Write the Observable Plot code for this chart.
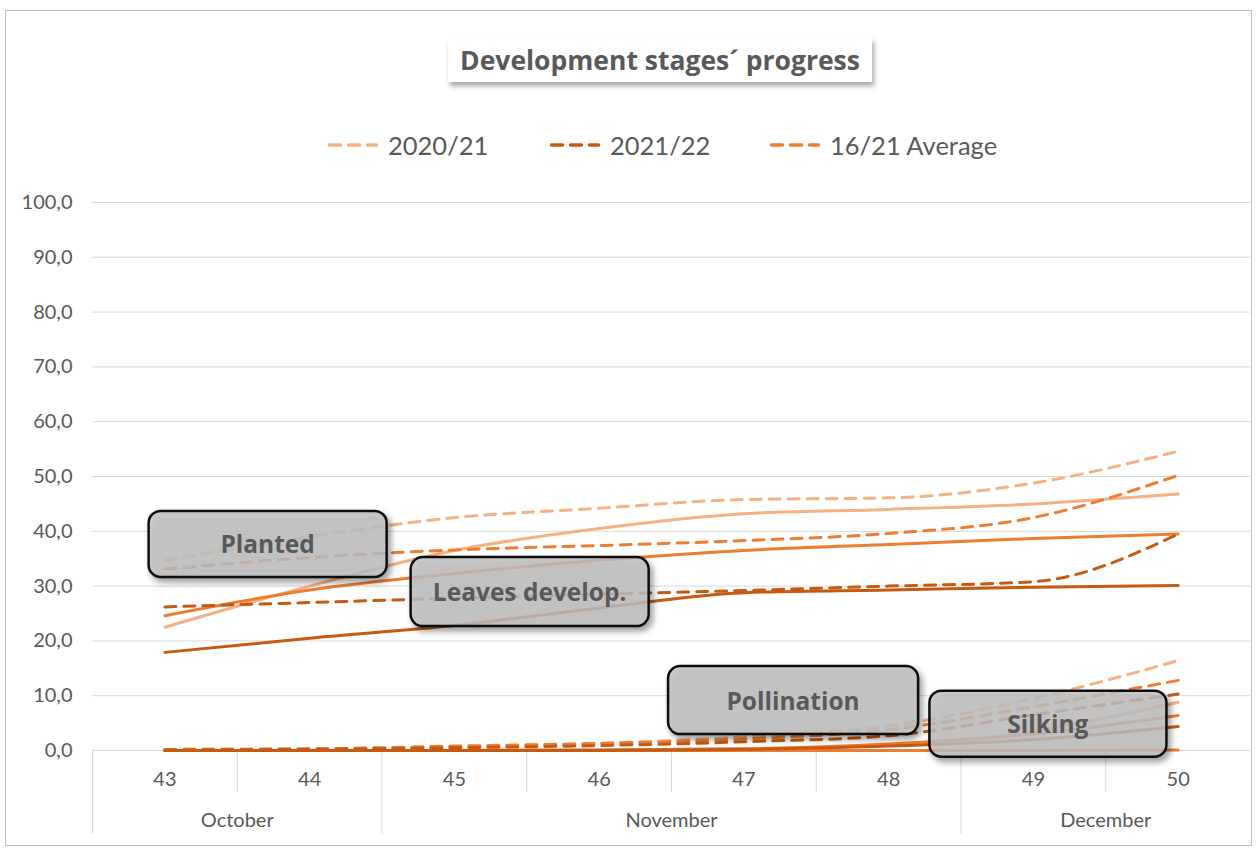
<!DOCTYPE html>
<html>
<head>
<meta charset="utf-8">
<script src="https://cdn.jsdelivr.net/npm/d3@7"></script>
<script src="https://cdn.jsdelivr.net/npm/@observablehq/plot@0.6"></script>
<style>
  body { margin: 0; background: #fff; }
  #wrap { position: relative; width: 1258px; height: 850px; overflow: hidden; font-family: Lato, "Open Sans", sans-serif; color: #595959; }
  #frame { position: absolute; left: 5px; top: 10px; width: 1247px; height: 836px; border: 1px solid #bdbdbd; box-sizing: border-box; pointer-events: none; }
  #header { position: relative; height: 170px; }
  #title { position: absolute; left: 448px; top: 38px; width: 424px; height: 44px; background: #fff;
           box-shadow: 2px 4px 5px rgba(0,0,0,0.35); display: flex; align-items: center; justify-content: center;
           font: 700 26.5px "Open Sans", sans-serif; color: #595959; white-space: nowrap; }
  .lg { position: absolute; top: 130px; height: 30px; display: flex; align-items: center; font-size: 25.5px; white-space: nowrap; }
  .lg svg { margin-right: 10px; }
  svg.chart { display: block; }
</style>
</head>
<body>
<div id="wrap">
  <div id="header">
    <div id="title">Development stages´ progress</div>
    <div id="legend"></div>
  </div>
  <div id="chart"></div>
  <div id="frame"></div>
</div>
<script>
// ---------- data ----------
const weeks = [43, 44, 45, 46, 47, 48, 49, 50];
const seasons = ["2020/21", "2021/22", "16/21 Average"];
const months = ["October", "October", "November", "November", "November", "November", "December", "December"];
const yTicks = [0, 10, 20, 30, 40, 50, 60, 70, 80, 90, 100];

// Planted (dashed)
const planted_2020_21 = [34.7, 39.0, 42.5, 44.2, 45.8, 46.1, 48.8, 54.6];
const planted_2021_22 = [26.2, 27.0, 27.8, 28.5, 29.2, 30.0, 30.8, 39.5];
const planted_avg     = [33.1, 35.2, 36.6, 37.4, 38.3, 39.6, 42.5, 50.2];
// Leaves develop. (solid)
const leaves_2020_21  = [22.5, 30.0, 36.5, 40.5, 43.2, 44.0, 45.0, 46.8];
const leaves_2021_22  = [17.9, 20.5, 22.8, 26.0, 28.8, 29.3, 29.8, 30.1];
const leaves_avg      = [24.6, 29.3, 32.3, 34.7, 36.5, 37.6, 38.7, 39.5];
// Pollination (dashed)
const pollination_2020_21 = [0.2, 0.3, 0.6, 1.3, 2.5, 4.5, 9.5, 16.4];
const pollination_2021_22 = [0.1, 0.2, 0.5, 0.9, 1.6, 2.7, 6.5, 10.3];
const pollination_avg     = [0.2, 0.3, 0.8, 1.3, 2.1, 3.8, 8.0, 12.8];
// Silking (solid)
const silking_2020_21 = [0.0, 0.0, 0.0, 0.1, 0.3, 1.0, 3.5, 8.8];
const silking_2021_22 = [0.0, 0.0, 0.0, 0.0, 0.2, 0.8, 2.0, 4.4];
const silking_avg     = [0.0, 0.0, 0.0, 0.1, 0.3, 1.2, 3.0, 6.4];
// unlabelled flat series along zero
const other_avg       = [0.0, 0.0, 0.0, 0.0, 0.0, 0.0, 0.0, 0.1];

// annotation anchors (week, value)
const labelText  = ["Planted", "Leaves develop.", "Pollination", "Silking"];
const labelWeek  = [43.71, 45.52, 47.34, 49.10];
const labelValue = [37.4, 28.7, 8.9, 4.6];

// ---------- styles ----------
const colors = ["#F4B183", "#C55A11", "#ED7D31"];
const dash = "11,8";
const boxSize = {"Planted": [238, 66], "Leaves develop.": [238, 69], "Pollination": [250, 68], "Silking": [237, 66]};

// ---------- build table ----------
const seriesTable = [
  ["Planted", "2020/21", planted_2020_21, true],
  ["Planted", "16/21 Average", planted_avg, true],
  ["Planted", "2021/22", planted_2021_22, true],
  ["Leaves develop.", "2020/21", leaves_2020_21, false],
  ["Leaves develop.", "16/21 Average", leaves_avg, false],
  ["Leaves develop.", "2021/22", leaves_2021_22, false],
  ["Other", "16/21 Average", other_avg, false],
  ["Silking", "2020/21", silking_2020_21, false],
  ["Silking", "16/21 Average", silking_avg, false],
  ["Silking", "2021/22", silking_2021_22, false],
  ["Pollination", "2020/21", pollination_2020_21, true],
  ["Pollination", "16/21 Average", pollination_avg, true],
  ["Pollination", "2021/22", pollination_2021_22, true]
];
const rows = [];
seriesTable.forEach(([stage, season, vals, dashed], si) => {
  vals.forEach((v, i) => rows.push({stage, season, week: weeks[i], value: v, dashed, key: si}));
});
const labels = labelText.map((t, i) => ({label: t, week: labelWeek[i], value: labelValue[i]}));

// month groups
const monthGroups = [];
months.forEach((m, i) => {
  const last = monthGroups[monthGroups.length - 1];
  if (last && last.name === m) last.weeks.push(weeks[i]);
  else monthGroups.push({name: m, weeks: [weeks[i]]});
});
monthGroups.forEach(g => g.center = (g.weeks[0] + g.weeks[g.weeks.length - 1]) / 2);
const longSeps = [], shortSeps = [];
weeks.forEach((w, i) => {
  const b = w - 0.5;
  if (i === 0 || months[i] !== months[i - 1]) longSeps.push(b); else shortSeps.push(b);
});

// ---------- legend ----------
const legendLeft = [328, 550, 770];
const legend = document.getElementById("legend");
seasons.forEach((s, i) => {
  const d = document.createElement("div");
  d.className = "lg";
  d.style.left = legendLeft[i] + "px";
  d.innerHTML = `<svg width="50" height="8"><line x1="1.5" y1="4" x2="48.5" y2="4" stroke="${colors[i]}" stroke-width="3.5" stroke-dasharray="${dash}" stroke-linecap="round"/></svg><span>${s}</span>`;
  legend.appendChild(d);
});

// ---------- plot ----------
const frameH = 580 - 32;
const chart = Plot.plot({
  width: 1258,
  height: 680,
  marginTop: 32,
  marginBottom: 100,
  marginLeft: 92,
  marginRight: 8,
  style: {fontFamily: "Lato, sans-serif", fontSize: "20px", color: "#595959", background: "transparent", overflow: "visible"},
  x: {domain: [42.5, 50.5]},
  y: {domain: [0, 100]},
  color: {domain: seasons, range: colors},
  marks: [
    Plot.gridY(yTicks, {stroke: "#d9d9d9", strokeOpacity: 1, strokeWidth: 1}),
    Plot.axisY(yTicks, {tickSize: 0, tickPadding: 20, tickFormat: d => d.toFixed(1).replace(".", ","), label: null, fontSize: 20}),
    Plot.axisX(weeks, {tickSize: 0, tickPadding: 21, tickFormat: d => String(d), label: null, fontSize: 20}),
    Plot.ruleX(shortSeps, {stroke: "#d9d9d9", strokeWidth: 1, dy: 42, insetTop: frameH - 42}),
    Plot.ruleX(longSeps, {stroke: "#d9d9d9", strokeWidth: 1, dy: 84, insetTop: frameH - 84}),
    Plot.text(monthGroups, {x: "center", text: "name", frameAnchor: "bottom", dy: 70, lineAnchor: "middle", fontSize: 20, fill: "#595959"}),
    Plot.line(rows.filter(d => !d.dashed), {x: "week", y: "value", z: "key", stroke: "season", strokeWidth: 3, curve: "monotone-x", strokeLinecap: "round"}),
    Plot.line(rows.filter(d => d.dashed), {x: "week", y: "value", z: "key", stroke: "season", strokeWidth: 3, curve: "monotone-x", strokeDasharray: dash, strokeLinecap: "round"}),
    Plot.text(labels, {x: "week", y: "value", text: "label", fontSize: 24.5, fontWeight: 700, fill: "#595959", fontFamily: "'Open Sans', sans-serif", lineAnchor: "middle"})
  ]
});
chart.classList.add("chart");
document.getElementById("chart").appendChild(chart);

// ---------- annotation boxes ----------
const NS = "http://www.w3.org/2000/svg";
const defs = document.createElementNS(NS, "defs");
defs.innerHTML = `<filter id="shadow" x="-20%" y="-20%" width="140%" height="150%"><feDropShadow dx="3" dy="4" stdDeviation="3" flood-color="#000" flood-opacity="0.45"/></filter>`;
chart.insertBefore(defs, chart.firstChild);
const labelTexts = Array.from(chart.querySelectorAll("text")).filter(t => boxSize[t.textContent] !== undefined);
if (labelTexts.length) {
  const labelGroup = labelTexts[0].parentNode;
  const svgRect = chart.getBoundingClientRect();
  const boxG = document.createElementNS(NS, "g");
  labelTexts.forEach(t => {
    const r = t.getBoundingClientRect();
    const cx = r.left + r.width / 2 - svgRect.left;
    const cy = r.top + r.height / 2 - svgRect.top;
    const [w, h] = boxSize[t.textContent];
    const rect = document.createElementNS(NS, "rect");
    rect.setAttribute("x", cx - w / 2);
    rect.setAttribute("y", cy - h / 2);
    rect.setAttribute("width", w);
    rect.setAttribute("height", h);
    rect.setAttribute("rx", 12);
    rect.setAttribute("fill", "#bfbfbf");
    rect.setAttribute("fill-opacity", 0.8);
    rect.setAttribute("stroke", "#111");
    rect.setAttribute("stroke-width", 2.5);
    rect.setAttribute("filter", "url(#shadow)");
    boxG.appendChild(rect);
  });
  labelGroup.parentNode.insertBefore(boxG, labelGroup);
}
</script>
</body>
</html>
